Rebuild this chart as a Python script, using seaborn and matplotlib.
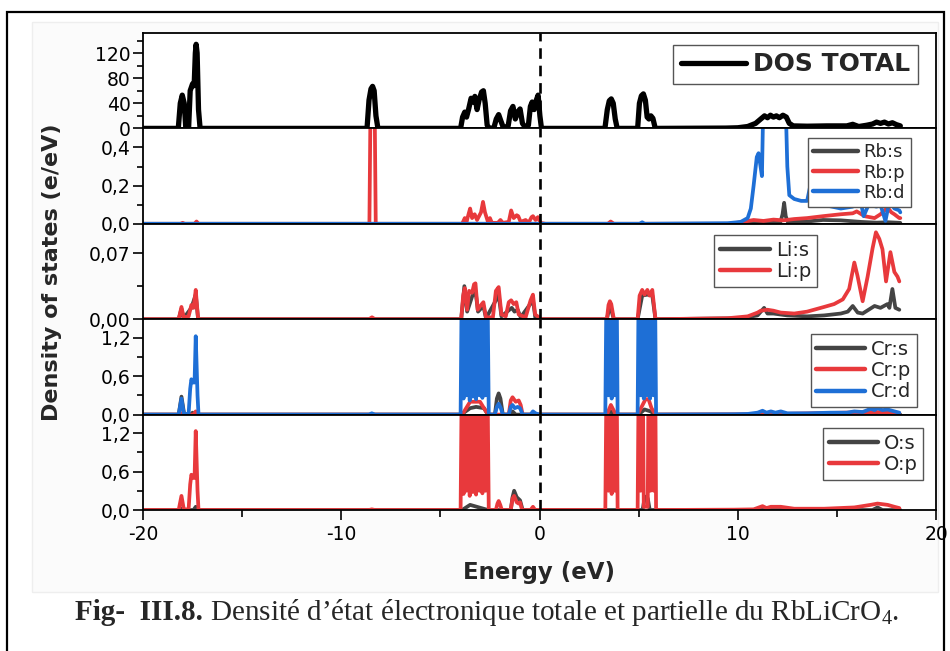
import matplotlib
matplotlib.use("Agg")
import matplotlib.pyplot as plt
import seaborn as sns
from matplotlib.ticker import FixedLocator
from matplotlib.lines import Line2D
from matplotlib.patches import Rectangle

# ---------------- data (energy eV, DOS) ----------------
dos_total = [(-20, 0), (-18.22, 0), (-18.12, 40), (-18.02, 53), (-17.92, 40), (-17.84, 0), (-17.7, 0),
             (-17.62, 60), (-17.5, 71), (-17.42, 68), (-17.36, 120), (-17.32, 134), (-17.27, 120),
             (-17.2, 30), (-17.12, 0), (-8.7, 0), (-8.6, 45), (-8.5, 63), (-8.42, 67), (-8.34, 60),
             (-8.25, 20), (-8.15, 0), (-3.98, 0), (-3.88, 18), (-3.77, 26), (-3.68, 18), (-3.58, 30),
             (-3.45, 48), (-3.35, 42), (-3.26, 51), (-3.15, 30), (-3.05, 45), (-2.92, 58), (-2.83, 60),
             (-2.74, 40), (-2.64, 5), (-2.52, 0), (-2.3, 1), (-2.18, 15), (-2.06, 22), (-1.95, 12),
             (-1.82, 1), (-1.58, 4), (-1.46, 28), (-1.34, 35), (-1.22, 15), (-1.1, 26), (-0.98, 31),
             (-0.86, 8), (-0.72, 2), (-0.56, 5), (-0.46, 35), (-0.37, 42), (-0.27, 30), (-0.16, 45),
             (-0.07, 53), (0.02, 20), (0.1, 0), (3.3, 0), (3.42, 30), (3.52, 44), (3.62, 47),
             (3.72, 40), (3.82, 15), (3.92, 0), (4.95, 0), (5.04, 40), (5.14, 52), (5.24, 55),
             (5.34, 45), (5.43, 18), (5.52, 15), (5.62, 20), (5.72, 16), (5.84, 0), (9.4, 0.5),
             (10.0, 1), (10.5, 3), (10.9, 8), (11.2, 16), (11.35, 20), (11.5, 17), (11.65, 21),
             (11.8, 18), (11.95, 20), (12.1, 17), (12.28, 21), (12.45, 18), (12.6, 8), (12.8, 4),
             (13.5, 3.5), (14.5, 4), (15.5, 4), (15.8, 6.5), (16.1, 3), (16.5, 5), (16.8, 7),
             (17.0, 10), (17.2, 8), (17.4, 10), (17.6, 7), (17.8, 9), (18.0, 6), (18.2, 4)]

rb_s = [(-20, 0), (10.0, 0), (10.5, 0.003), (11.0, 0.005), (12.15, 0.008), (12.26, 0.05), (12.34, 0.11),
        (12.42, 0.04), (12.52, 0.01), (13.5, 0.012), (14.3, 0.02), (15.2, 0.018), (16.2, 0.01),
        (17.0, 0.006), (17.6, 0.008), (18.2, 0.005)]
rb_p = [(-20, 0), (-18.1, 0), (-18.0, 0.005), (-17.9, 0), (-17.4, 0), (-17.3, 0.012), (-17.2, 0),
        (-8.58, 0), (-8.42, 1.8), (-8.26, 0), (-3.9, 0), (-3.77, 0.03), (-3.68, 0.01), (-3.58, 0.05),
        (-3.5, 0.08), (-3.4, 0.03), (-3.27, 0.05), (-3.15, 0.02), (-2.95, 0.06), (-2.85, 0.115),
        (-2.75, 0.06), (-2.6, 0.01), (-2.5, 0.03), (-2.4, 0.005), (-2.1, 0.005), (-1.97, 0.02),
        (-1.85, 0.005), (-1.55, 0.01), (-1.43, 0.07), (-1.3, 0.03), (-1.15, 0.045), (-1.07, 0.04),
        (-0.95, 0.01), (-0.7, 0.02), (-0.55, 0.005), (-0.4, 0.035), (-0.33, 0.04), (-0.2, 0.02),
        (-0.08, 0.035), (0.05, 0.005), (0.3, 0), (3.45, 0), (3.59, 0.012), (3.75, 0), (9.6, 0),
        (10.15, 0.008), (10.8, 0.02), (11.3, 0.015), (11.8, 0.022), (12.3, 0.018), (12.85, 0.025),
        (13.5, 0.03), (14.3, 0.04), (15.2, 0.05), (15.8, 0.055), (16.0, 0.065), (16.4, 0.04),
        (16.9, 0.03), (17.2, 0.05), (17.56, 0.085), (17.75, 0.06), (17.9, 0.05), (18.15, 0.03),
        (18.2, 0.03)]
rb_d = [(-20, 0), (5.05, 0), (5.18, 0.008), (5.3, 0), (9.48, 0.003), (10.15, 0.01), (10.5, 0.03),
        (10.66, 0.08), (10.8, 0.2), (10.96, 0.35), (11.05, 0.37), (11.15, 0.3), (11.22, 0.25),
        (11.3, 0.7), (11.5, 1.0), (11.8, 0.9), (12.1, 1.0), (12.4, 0.7), (12.5, 0.3), (12.6, 0.15),
        (12.85, 0.13), (13.2, 0.12), (13.5, 0.12), (13.7, 0.22), (13.9, 0.12), (14.3, 0.1),
        (15.2, 0.08), (15.8, 0.09), (16.1, 0.17), (16.35, 0.04), (16.6, 0.1), (17.0, 0.09),
        (17.2, 0.1), (17.45, 0.015), (17.65, 0.12), (17.9, 0.08), (18.15, 0.07), (18.2, 0.06)]

li_s = [(-20, 0), (-18.2, 0), (-18.06, 0.011), (-17.95, 0.001), (-17.56, 0.012), (-17.34, 0.026),
        (-17.22, 0), (-3.95, 0), (-3.79, 0.035), (-3.65, 0.008), (-3.4, 0.024), (-3.23, 0.03),
        (-3.1, 0.008), (-2.83, 0.014), (-2.7, 0.001), (-2.2, 0.02), (-2.06, 0.026), (-1.92, 0.003),
        (-1.4, 0.012), (-1.26, 0.008), (-1.1, 0.01), (-0.95, 0.002), (-0.33, 0.02), (-0.2, 0),
        (3.4, 0), (3.55, 0.015), (3.75, 0), (4.95, 0), (5.18, 0.025), (5.44, 0.026), (5.69, 0.025),
        (5.85, 0), (10.15, 0.001), (11.0, 0.004), (11.33, 0.012), (11.5, 0.006), (11.8, 0.006),
        (12.5, 0.004), (13.5, 0.003), (14.36, 0.004), (15.2, 0.006), (15.55, 0.008), (15.8, 0.014),
        (16.05, 0.007), (16.3, 0.006), (16.6, 0.01), (16.9, 0.014), (17.2, 0.012), (17.55, 0.016),
        (17.65, 0.012), (17.8, 0.032), (17.95, 0.012), (18.15, 0.01)]
li_p = [(-20, 0), (-18.2, 0), (-18.06, 0.013), (-17.95, 0.002), (-17.7, 0.003), (-17.56, 0.015),
        (-17.45, 0.012), (-17.34, 0.031), (-17.22, 0), (-8.6, 0), (-8.45, 0.002), (-8.3, 0),
        (-3.95, 0), (-3.85, 0.025), (-3.77, 0.033), (-3.65, 0.01), (-3.55, 0.03), (-3.4, 0.028),
        (-3.3, 0.037), (-3.23, 0.038), (-3.12, 0.01), (-2.95, 0.015), (-2.83, 0.018), (-2.7, 0.002),
        (-2.35, 0.002), (-2.2, 0.03), (-2.06, 0.034), (-1.92, 0.005), (-1.7, 0.003), (-1.55, 0.018),
        (-1.43, 0.02), (-1.3, 0.016), (-1.17, 0.018), (-1.05, 0.005), (-0.7, 0.002), (-0.45, 0.02),
        (-0.33, 0.026), (-0.22, 0.005), (0.1, 0), (3.4, 0), (3.48, 0.015), (3.55, 0.019),
        (3.62, 0.016), (3.75, 0), (4.95, 0), (5.05, 0.025), (5.18, 0.031), (5.3, 0.026),
        (5.44, 0.031), (5.55, 0.025), (5.69, 0.031), (5.85, 0), (9.48, 0.001), (10.5, 0.003),
        (11.0, 0.007), (11.16, 0.009), (11.5, 0.01), (11.8, 0.009), (12.17, 0.007), (12.85, 0.006),
        (13.5, 0.008), (14.36, 0.013), (14.86, 0.016), (15.3, 0.021), (15.62, 0.032), (15.88, 0.06),
        (16.04, 0.046), (16.3, 0.019), (16.55, 0.045), (16.8, 0.075), (16.97, 0.092), (17.14, 0.085),
        (17.3, 0.074), (17.48, 0.04), (17.7, 0.071), (17.9, 0.05), (18.06, 0.045), (18.15, 0.04)]

cr_s = [(-20, 0), (-18.2, 0), (-18.06, 0.28), (-17.92, 0), (-17.6, 0), (-17.5, 0.03), (-17.4, 0),
        (-3.95, 0), (-3.5, 0.1), (-3.2, 0.12), (-2.8, 0.1), (-2.6, 0), (-2.25, 0), (-2.15, 0.25),
        (-2.06, 0.33), (-1.97, 0.25), (-1.85, 0), (-1.5, 0), (-1.36, 0.05), (-1.2, 0), (3.4, 0),
        (3.6, 0.05), (3.8, 0), (5.0, 0), (5.3, 0.08), (5.6, 0.05), (5.85, 0), (18.2, 0)]
cr_p = [(-20, 0), (-18.2, 0), (-18.06, 0.02), (-17.9, 0), (-17.45, 0), (-17.34, 0.05), (-17.2, 0),
        (-3.9, 0), (-3.5, 0.2), (-3.0, 0.2), (-2.6, 0), (-1.55, 0), (-1.45, 0.22), (-1.36, 0.27),
        (-1.2, 0.2), (-1.05, 0.22), (-0.95, 0.15), (-0.85, 0), (-0.45, 0), (-0.33, 0.03), (-0.2, 0),
        (3.4, 0), (3.6, 0.15), (3.85, 0), (4.95, 0), (5.2, 0.15), (5.35, 0.24), (5.5, 0.24),
        (5.65, 0.1), (5.85, 0), (10.0, 0.003), (12.0, 0.01), (17.0, 0.04), (18.15, 0.02)]
cr_d = [(-20, 0), (-18.2, 0), (-18.06, 0.25), (-17.94, 0.01), (-17.7, 0.01), (-17.62, 0.4),
        (-17.56, 0.55), (-17.48, 0.5), (-17.4, 0.5), (-17.34, 1.22), (-17.25, 0.3), (-17.2, 0),
        (-8.6, 0), (-8.46, 0.02), (-8.3, 0), (-3.98, 0), (-3.9, 2.8), (-3.83, 0.25), (-3.76, 3.2),
        (-3.68, 0.3), (-3.6, 3.4), (-3.52, 0.22), (-3.44, 3.0), (-3.36, 0.28), (-3.28, 3.6),
        (-3.2, 0.24), (-3.12, 3.3), (-3.04, 0.3), (-2.96, 3.5), (-2.88, 0.26), (-2.8, 3.0),
        (-2.72, 0.3), (-2.64, 2.6), (-2.56, 0), (-2.25, 0), (-2.15, 0.12), (-2.06, 0.17),
        (-1.95, 0.1), (-1.85, 0), (-1.55, 0), (-1.45, 0.12), (-1.36, 0.15), (-1.25, 0.1),
        (-1.1, 0.12), (-0.98, 0.1), (-0.85, 0), (-0.45, 0), (-0.33, 0.05), (-0.2, 0.02), (0.0, 0),
        (3.32, 0), (3.4, 2.8), (3.48, 0.3), (3.56, 3.2), (3.64, 0.25), (3.72, 3.0), (3.8, 0.3),
        (3.88, 2.6), (3.94, 0), (4.95, 0), (5.02, 2.8), (5.1, 0.3), (5.18, 3.5), (5.26, 0.25),
        (5.34, 3.0), (5.42, 0.3), (5.5, 3.6), (5.58, 0.25), (5.66, 3.3), (5.74, 0.3), (5.8, 3.0),
        (5.88, 0), (9.8, 0.005), (10.5, 0.01), (11.0, 0.03), (11.25, 0.06), (11.45, 0.03),
        (11.67, 0.05), (11.9, 0.03), (12.17, 0.05), (12.5, 0.02), (13.5, 0.02), (14.7, 0.03),
        (15.5, 0.03), (15.88, 0.05), (16.3, 0.04), (16.7, 0.09), (16.9, 0.07), (17.05, 0.1),
        (17.3, 0.07), (17.56, 0.08), (17.9, 0.05), (18.15, 0.03)]

o_s = [(-20, 0), (-18.2, 0), (-18.06, 0.02), (-17.9, 0), (-17.45, 0), (-17.34, 0.05), (-17.2, 0),
       (-3.9, 0), (-3.5, 0.08), (-2.6, 0), (-1.45, 0), (-1.36, 0.2), (-1.28, 0.3), (-1.15, 0.2),
       (-0.98, 0.15), (-0.85, 0), (5.2, 0), (5.3, 0.18), (5.38, 0.21), (5.46, 0.18), (5.56, 0),
       (16.8, 0), (17.05, 0.04), (17.3, 0), (18.2, 0)]
o_p = [(-20, 0), (-18.2, 0), (-18.06, 0.22), (-17.94, 0.01), (-17.7, 0.01), (-17.62, 0.4),
       (-17.56, 0.55), (-17.48, 0.5), (-17.4, 0.5), (-17.34, 1.23), (-17.25, 0.3), (-17.2, 0),
       (-8.6, 0), (-8.46, 0.01), (-8.3, 0), (-3.98, 0), (-3.9, 2.8), (-3.83, 0.25), (-3.76, 3.2),
       (-3.68, 0.3), (-3.6, 3.4), (-3.52, 0.22), (-3.44, 3.0), (-3.36, 0.28), (-3.28, 3.6),
       (-3.2, 0.24), (-3.12, 3.3), (-3.04, 0.3), (-2.96, 3.5), (-2.88, 0.26), (-2.8, 3.0),
       (-2.72, 0.3), (-2.64, 2.6), (-2.56, 0), (-2.2, 0), (-2.12, 0.1), (-2.06, 0.14),
       (-1.98, 0.08), (-1.9, 0), (-1.45, 0), (-1.36, 0.18), (-1.28, 0.22), (-1.15, 0.12),
       (-1.05, 0.1), (-0.98, 0.12), (-0.88, 0), (-0.45, 0), (-0.33, 0.05), (-0.22, 0),
       (3.32, 0), (3.4, 2.8), (3.48, 0.3), (3.56, 3.2), (3.64, 0.25), (3.72, 3.0), (3.8, 0.3),
       (3.88, 2.6), (3.94, 0), (4.95, 0), (5.02, 2.8), (5.1, 0.3), (5.18, 3.5), (5.26, 0.05),
       (5.46, 0.05), (5.52, 3.3), (5.6, 0.3), (5.68, 3.3), (5.76, 0.3), (5.82, 3.0), (5.88, 0),
       (9.8, 0.005), (10.8, 0.01), (11.25, 0.06), (11.45, 0.03), (11.67, 0.05), (12.17, 0.05),
       (12.85, 0.02), (14.36, 0.02), (15.88, 0.04), (16.7, 0.08), (17.05, 0.1), (17.56, 0.08),
       (17.9, 0.05), (18.15, 0.03)]

panel_ylim = [152, 0.5, 0.101, 1.485, 1.487]
panel_major = [[0, 40, 80, 120], [0, 0.2, 0.4], [0, 0.07], [0, 0.6, 1.2], [0, 0.6, 1.2]]
panel_major_labels = [["0", "40", "80", "120"], ["0,0", "0,2", "0,4"], ["0,00", "0,07"],
                      ["0,0", "0,6", "1,2"], ["0,0", "0,6", "1,2"]]
panel_minor = [[20, 60, 100, 140], [0.1, 0.3], [0.035], [0.3, 0.9], [0.3, 0.9]]
x_major = [-20, -10, 0, 10, 20]
x_major_labels = ["-20", "-10", "0", "10", "20"]
x_minor = [-15, -5, 5, 15]

GRAY, RED, BLUE, BLACK = "#444444", "#e8393c", "#1e6fd6", "#000000"

panels = [
    [(dos_total, BLACK, "DOS TOTAL")],
    [(rb_s, GRAY, "Rb:s"), (rb_p, RED, "Rb:p"), (rb_d, BLUE, "Rb:d")],
    [(li_s, GRAY, "Li:s"), (li_p, RED, "Li:p")],
    [(cr_s, GRAY, "Cr:s"), (cr_p, RED, "Cr:p"), (cr_d, BLUE, "Cr:d")],
    [(o_s, GRAY, "O:s"), (o_p, RED, "O:p")],
]
legend_anchor = [(0.977, 0.875), (0.968, 0.90), (0.850, 0.883), (0.976, 0.845), (0.984, 0.86)]
legend_size = [18, 13, 14, 14, 14]
legend_hlen = [2.6, 2.5, 2.6, 2.5, 2.5]

# ---------------- figure ----------------
sns.set_theme(style="ticks", rc={"axes.edgecolor": "black", "xtick.color": "black",
                                 "ytick.color": "black", "axes.linewidth": 1.3})
plt.rcParams["font.family"] = ["DejaVu Sans"]
plt.rcParams["mathtext.fontset"] = "custom"
plt.rcParams["mathtext.rm"] = "Liberation Serif"

fig = plt.figure(figsize=(9.5, 6.51), dpi=100)

# page-like frame and faint pasted-image background
fig.patches.append(Rectangle((32 / 950, 1 - 592 / 651), (938 - 32) / 950, (592 - 22) / 651,
                             transform=fig.transFigure, facecolor="#fbfbfb", edgecolor="#eeeeee",
                             lw=1, zorder=-10))
fig.patches.append(Rectangle((7 / 950, -0.1), (944 - 7) / 950, 1.1 - 12 / 651,
                             transform=fig.transFigure, facecolor="none", edgecolor="black",
                             lw=1.6, zorder=-5))

L, R, T, B = 143 / 950, 936 / 950, 1 - 33 / 651, 1 - 510 / 651
H = (T - B) / 5
axes = [fig.add_axes([L, T - (i + 1) * H, R - L, H]) for i in range(5)]

for i, ax in enumerate(axes):
    ax.set_facecolor("white")
    handles = []
    for curve, color, label in panels[i]:
        xs = [p[0] for p in curve]
        ys = [p[1] for p in curve]
        lw = 3.8 if i == 0 else 2.7
        sns.lineplot(x=xs, y=ys, ax=ax, color=color, lw=lw, estimator=None, sort=False)
        ax.lines[-1].set_solid_joinstyle("round")
        ax.lines[-1].set_solid_capstyle("round")
        handles.append(Line2D([0], [0], color=color, lw=3.8 if i == 0 else 3.2,
                              solid_capstyle="round", label=label))
    ax.axvline(0, color="black", lw=1.9, ls=(0, (4, 2.6)), zorder=5)
    ax.set_xlim(-20, 20)
    ax.set_ylim(0, panel_ylim[i])
    ax.set_xlabel("")
    ax.set_ylabel("")
    ax.yaxis.set_major_locator(FixedLocator(panel_major[i]))
    ax.set_yticklabels(panel_major_labels[i])
    ax.yaxis.set_minor_locator(FixedLocator(panel_minor[i]))
    ax.tick_params(axis="y", which="major", direction="out", length=7, width=1.2,
                   labelsize=13.5, pad=2, right=False, left=True)
    ax.tick_params(axis="y", which="minor", direction="out", length=4, width=1.2, left=True)
    for sp in ax.spines.values():
        sp.set_visible(True)
        sp.set_linewidth(1.3)
        sp.set_color("black")
    if i < 4:
        ax.tick_params(axis="x", which="both", bottom=False, top=False, labelbottom=False)
    else:
        ax.xaxis.set_major_locator(FixedLocator(x_major))
        ax.set_xticklabels(x_major_labels)
        ax.xaxis.set_minor_locator(FixedLocator(x_minor))
        ax.tick_params(axis="x", which="major", direction="out", length=7, width=1.2,
                       labelsize=13.5, pad=4, bottom=True)
        ax.tick_params(axis="x", which="minor", direction="out", length=5, width=1.2, bottom=True)
    leg = ax.legend(handles=handles, loc="upper right", bbox_to_anchor=legend_anchor[i],
                    borderaxespad=0, frameon=True, fancybox=False, framealpha=1,
                    edgecolor="#555555", handlelength=legend_hlen[i], handletextpad=0.3,
                    labelspacing=0.12, borderpad=0.3,
                    prop={"size": legend_size[i], "weight": "bold" if i == 0 else "normal"})
    leg.get_frame().set_linewidth(1.0)
    leg.set_zorder(10)

fig.text(539 / 950, 1 - 573 / 651, "Energy (eV)", ha="center", va="center",
         fontsize=16.5, fontweight="bold")
fig.text(52 / 950, 1 - 272 / 651, "Density of states (e/eV)", ha="center", va="center",
         rotation=90, fontsize=16, fontweight="bold")

# caption
cy = 1 - 613 / 651
t1 = fig.text(0, cy, "Fig-  III.8.", ha="left", va="center", fontsize=21,
              fontweight="bold", family="Liberation Serif")
t2 = fig.text(0, cy, " Densité d’état électronique totale et partielle du RbLiCrO$_\\mathregular{4}$.",
              ha="left", va="center", fontsize=21, family="Liberation Serif")
fig.canvas.draw()
r = fig.canvas.get_renderer()
w1 = t1.get_window_extent(r).width
w2 = t2.get_window_extent(r).width
x0 = 487 - (w1 + w2) / 2
t1.set_x(x0 / 950)
t2.set_x((x0 + w1) / 950)

fig.savefig("out.png", dpi=100)
